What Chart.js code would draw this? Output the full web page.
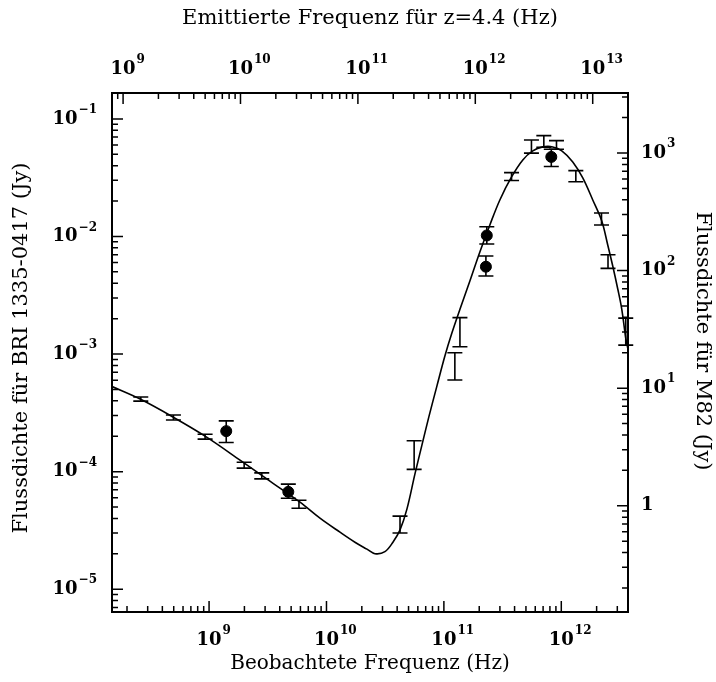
<!DOCTYPE html>
<html>
<head>
<meta charset="utf-8">
<script src="https://cdn.jsdelivr.net/npm/chart.js@4.4.0/dist/chart.umd.min.js"></script>
<style>
  html, body { margin: 0; padding: 0; background: #fff; }
  #wrap { width: 716px; height: 682px; }
</style>
</head>
<body>
<div id="wrap"><canvas id="sedChart" width="716" height="682"></canvas></div>
<script>
// model curve, observed frequency (Hz) vs flux (Jy, left axis)
const curveFreq = [1.494e8, 2.587e8, 4.94e8, 9.25e8, 1.835e9, 3.30e9, 5.95e9, 8.80e9, 1.303e10, 1.748e10,
  2.212e10, 2.588e10, 3.147e10, 3.681e10, 4.222e10, 4.843e10, 5.665e10, 6.50e10, 7.455e10, 8.718e10,
  1.0198e11, 1.1698e11, 1.368e11, 1.665e11, 2.025e11, 2.464e11, 2.997e11, 3.770e11, 4.701e11, 5.720e11,
  6.960e11, 8.468e11, 1.010e12, 1.2526e12, 1.524e12, 1.854e12, 2.212e12, 2.487e12, 2.743e12, 3.027e12,
  3.273e12, 3.540e12, 3.681e12];
const curveFlux = [5.29e-4, 4.14e-4, 2.909e-4, 2.004e-4, 1.253e-4, 8.30e-5, 5.50e-5, 4.02e-5, 3.055e-5, 2.51e-5,
  2.19e-5, 2.005e-5, 2.085e-5, 2.51e-5, 3.177e-5, 4.80e-5, 9.52e-5, 1.680e-4, 2.938e-4, 5.34e-4,
  9.62e-4, 1.509e-3, 2.391e-3, 4.18e-3, 7.38e-3, 1.253e-2, 2.044e-2, 3.208e-2, 4.478e-2, 5.340e-2,
  5.776e-2, 5.776e-2, 5.340e-2, 4.305e-2, 3.147e-2, 2.044e-2, 1.355e-2, 8.47e-3, 5.61e-3, 3.574e-3,
  2.415e-3, 1.368e-3, 1.125e-3];

// M82 measurements (error bars only)
const m82Freq = [2.62e8, 4.97e8, 9.25e8, 1.99e9, 2.81e9, 5.83e9, 4.23e10, 5.58e10, 1.24e11, 1.37e11,
  3.77e11, 5.57e11, 7.10e11, 9.10e11, 1.33e12, 2.20e12, 2.50e12, 3.54e12];
const m82Flux = [4.14e-4, 2.89e-4, 1.98e-4, 1.135e-4, 9.2e-5, 5.28e-5, 3.57e-5, 1.38e-4, 7.9e-4, 1.54e-3,
  3.23e-2, 5.81e-2, 6.44e-2, 6.01e-2, 3.26e-2, 1.41e-2, 6.12e-3, 1.57e-3];
const m82Low = [3.98e-4, 2.75e-4, 1.89e-4, 1.07e-4, 8.67e-5, 4.88e-5, 3.01e-5, 1.045e-4, 6.01e-4, 1.153e-3,
  2.99e-2, 5.11e-2, 5.74e-2, 5.52e-2, 2.92e-2, 1.25e-2, 5.35e-3, 1.19e-3];
const m82High = [4.31e-4, 3.03e-4, 2.08e-4, 1.20e-4, 9.76e-5, 5.71e-5, 4.18e-5, 1.83e-4, 1.026e-3, 2.04e-3,
  3.49e-2, 6.62e-2, 7.21e-2, 6.53e-2, 3.63e-2, 1.585e-2, 7.0e-3, 2.02e-3];

// BRI 1335-0417 measurements (filled circles)
const briFreq = [1.40e9, 4.73e9, 2.28e11, 2.32e11, 8.22e11];
const briFlux = [2.21e-4, 6.73e-5, 5.53e-3, 1.02e-2, 4.75e-2];
const briLow = [1.77e-4, 5.94e-5, 4.61e-3, 8.63e-3, 3.93e-2];
const briHigh = [2.70e-4, 7.83e-5, 6.82e-3, 1.21e-2, 5.52e-2];

// tick labels
const bottomTicks = [1e9, 1e10, 1e11, 1e12];
const topTicks = [1e9, 1e10, 1e11, 1e12, 1e13];
const leftTicks = [1e-1, 1e-2, 1e-3, 1e-4, 1e-5];
const rightTicks = [1e3, 1e2, 1e1, 1];

const redshift = 4.4;
const m82Factor = 19500; // M82 flux / BRI flux axis ratio
const freqMin = 1.49e8, freqMax = 3.7e12;
const fluxMin = 6.4e-6, fluxMax = 0.166;

const serif = '"DejaVu Serif", "Liberation Serif", serif';

function toPoints(xs, ys) {
  return xs.map((x, i) => ({ x: x, y: ys[i] }));
}

function logTicks(min, max) {
  const out = [];
  for (let e = Math.floor(Math.log10(min)); e <= Math.ceil(Math.log10(max)); e++) {
    for (let k = 1; k <= 9; k++) {
      const v = k * Math.pow(10, e);
      if (v >= min * 0.999 && v <= max * 1.001) out.push({ v: v, major: k === 1 });
    }
  }
  return out;
}

function powLabel(ctx, v, x, y, align) {
  const e = Math.round(Math.log10(v));
  const base = e === 0 ? '1' : '10';
  const sup = e === 0 ? '' : String(e).replace('-', '\u2212');
  ctx.font = 'bold 18px ' + serif;
  const w1 = ctx.measureText(base).width;
  ctx.font = 'bold 12px ' + serif;
  const w2 = sup ? ctx.measureText(sup).width + 1 : 0;
  let left;
  if (align === 'center') left = x - w1 / 2;
  else if (align === 'right') left = x - w1 - w2;
  else left = x;
  ctx.textAlign = 'left';
  ctx.textBaseline = 'middle';
  ctx.font = 'bold 18px ' + serif;
  ctx.fillText(base, left, y);
  if (sup) {
    ctx.font = 'bold 12px ' + serif;
    ctx.fillText(sup, left + w1 + 1, y - 9);
  }
}

const errorBars = {
  id: 'errorBars',
  afterDatasetsDraw(chart) {
    const ctx = chart.ctx;
    const xs = chart.scales.x, ys = chart.scales.y;
    ctx.save();
    ctx.strokeStyle = '#000';
    ctx.lineWidth = 1.6;
    chart.data.datasets.forEach(ds => {
      if (!ds.errLow) return;
      ds.data.forEach((p, j) => {
        const x = xs.getPixelForValue(p.x);
        const yLo = ys.getPixelForValue(ds.errLow[j]);
        const yHi = ys.getPixelForValue(ds.errHigh[j]);
        const c = ds.capHalf;
        ctx.beginPath();
        ctx.moveTo(x, yLo); ctx.lineTo(x, yHi);
        ctx.moveTo(x - c, yLo); ctx.lineTo(x + c, yLo);
        ctx.moveTo(x - c, yHi); ctx.lineTo(x + c, yHi);
        ctx.stroke();
      });
    });
    ctx.restore();
  }
};

const axisFrame = {
  id: 'axisFrame',
  afterDraw(chart) {
    const { ctx, chartArea: a, scales } = chart;
    ctx.save();
    ctx.strokeStyle = '#000';
    ctx.fillStyle = '#000';
    ctx.lineWidth = 2;
    ctx.strokeRect(a.left, a.top, a.right - a.left, a.bottom - a.top);

    ctx.lineWidth = 1.5;
    ctx.beginPath();
    logTicks(scales.x.min, scales.x.max).forEach(t => {
      const px = scales.x.getPixelForValue(t.v);
      ctx.moveTo(px, a.bottom); ctx.lineTo(px, a.bottom - (t.major ? 11 : 6));
    });
    logTicks(scales.x2.min, scales.x2.max).forEach(t => {
      const px = scales.x2.getPixelForValue(t.v);
      ctx.moveTo(px, a.top); ctx.lineTo(px, a.top + (t.major ? 11 : 6));
    });
    logTicks(scales.y.min, scales.y.max).forEach(t => {
      const py = scales.y.getPixelForValue(t.v);
      ctx.moveTo(a.left, py); ctx.lineTo(a.left + (t.major ? 11 : 6), py);
    });
    logTicks(scales.y2.min, scales.y2.max).forEach(t => {
      const py = scales.y2.getPixelForValue(t.v);
      ctx.moveTo(a.right, py); ctx.lineTo(a.right - (t.major ? 11 : 6), py);
    });
    ctx.stroke();

    bottomTicks.forEach(v => powLabel(ctx, v, scales.x.getPixelForValue(v), a.bottom + 28, 'center'));
    topTicks.forEach(v => powLabel(ctx, v, scales.x2.getPixelForValue(v), a.top - 24, 'center'));
    leftTicks.forEach(v => powLabel(ctx, v, a.left - 15, scales.y.getPixelForValue(v), 'right'));
    rightTicks.forEach(v => powLabel(ctx, v, a.right + 13, scales.y2.getPixelForValue(v), 'left'));

    // axis titles
    ctx.textAlign = 'center';
    ctx.textBaseline = 'middle';
    const cx = (a.left + a.right) / 2;
    ctx.font = '21px ' + serif;
    ctx.fillText('Emittierte Frequenz f\u00fcr z=' + redshift + ' (Hz)', cx, 19);
    ctx.font = '20px ' + serif;
    ctx.fillText('Beobachtete Frequenz (Hz)', cx, 664);

    ctx.font = '21px ' + serif;
    ctx.save();
    ctx.translate(22, 348);
    ctx.rotate(-Math.PI / 2);
    ctx.fillText('Flussdichte f\u00fcr BRI 1335-0417 (Jy)', 0, 0);
    ctx.restore();

    ctx.save();
    ctx.translate(702, 341);
    ctx.rotate(Math.PI / 2);
    ctx.fillText('Flussdichte f\u00fcr M82 (Jy)', 0, 0);
    ctx.restore();

    ctx.restore();
  }
};

const ctx = document.getElementById('sedChart').getContext('2d');
const chart = new Chart(ctx, {
  type: 'scatter',
  data: {
    datasets: [{
      type: 'line',
      label: 'Modell',
      data: toPoints(curveFreq, curveFlux),
      borderColor: '#000',
      borderWidth: 1.6,
      pointRadius: 0,
      fill: false,
      tension: 0.35
    }, {
      label: 'M82',
      data: toPoints(m82Freq, m82Flux),
      pointRadius: 0,
      errLow: m82Low,
      errHigh: m82High,
      capHalf: 7.5
    }, {
      label: 'BRI 1335-0417',
      data: toPoints(briFreq, briFlux),
      pointRadius: 5.5,
      pointBackgroundColor: '#000',
      pointBorderColor: '#000',
      errLow: briLow,
      errHigh: briHigh,
      capHalf: 7.5
    }]
  },
  options: {
    responsive: false,
    animation: false,
    devicePixelRatio: 1,
    layout: { padding: { left: 112, right: 88, top: 93, bottom: 70 } },
    plugins: { legend: { display: false }, tooltip: { enabled: false } },
    scales: {
      x: { type: 'logarithmic', min: freqMin, max: freqMax, bounds: 'data', display: false },
      y: { type: 'logarithmic', min: fluxMin, max: fluxMax, bounds: 'data', display: false },
      x2: { type: 'logarithmic', position: 'top', axis: 'x',
        min: freqMin * (1 + redshift), max: freqMax * (1 + redshift), bounds: 'data', display: false },
      y2: { type: 'logarithmic', position: 'right', axis: 'y',
        min: fluxMin * m82Factor, max: fluxMax * m82Factor, bounds: 'data', display: false }
    }
  },
  plugins: [errorBars, axisFrame]
});
</script>
</body>
</html>
